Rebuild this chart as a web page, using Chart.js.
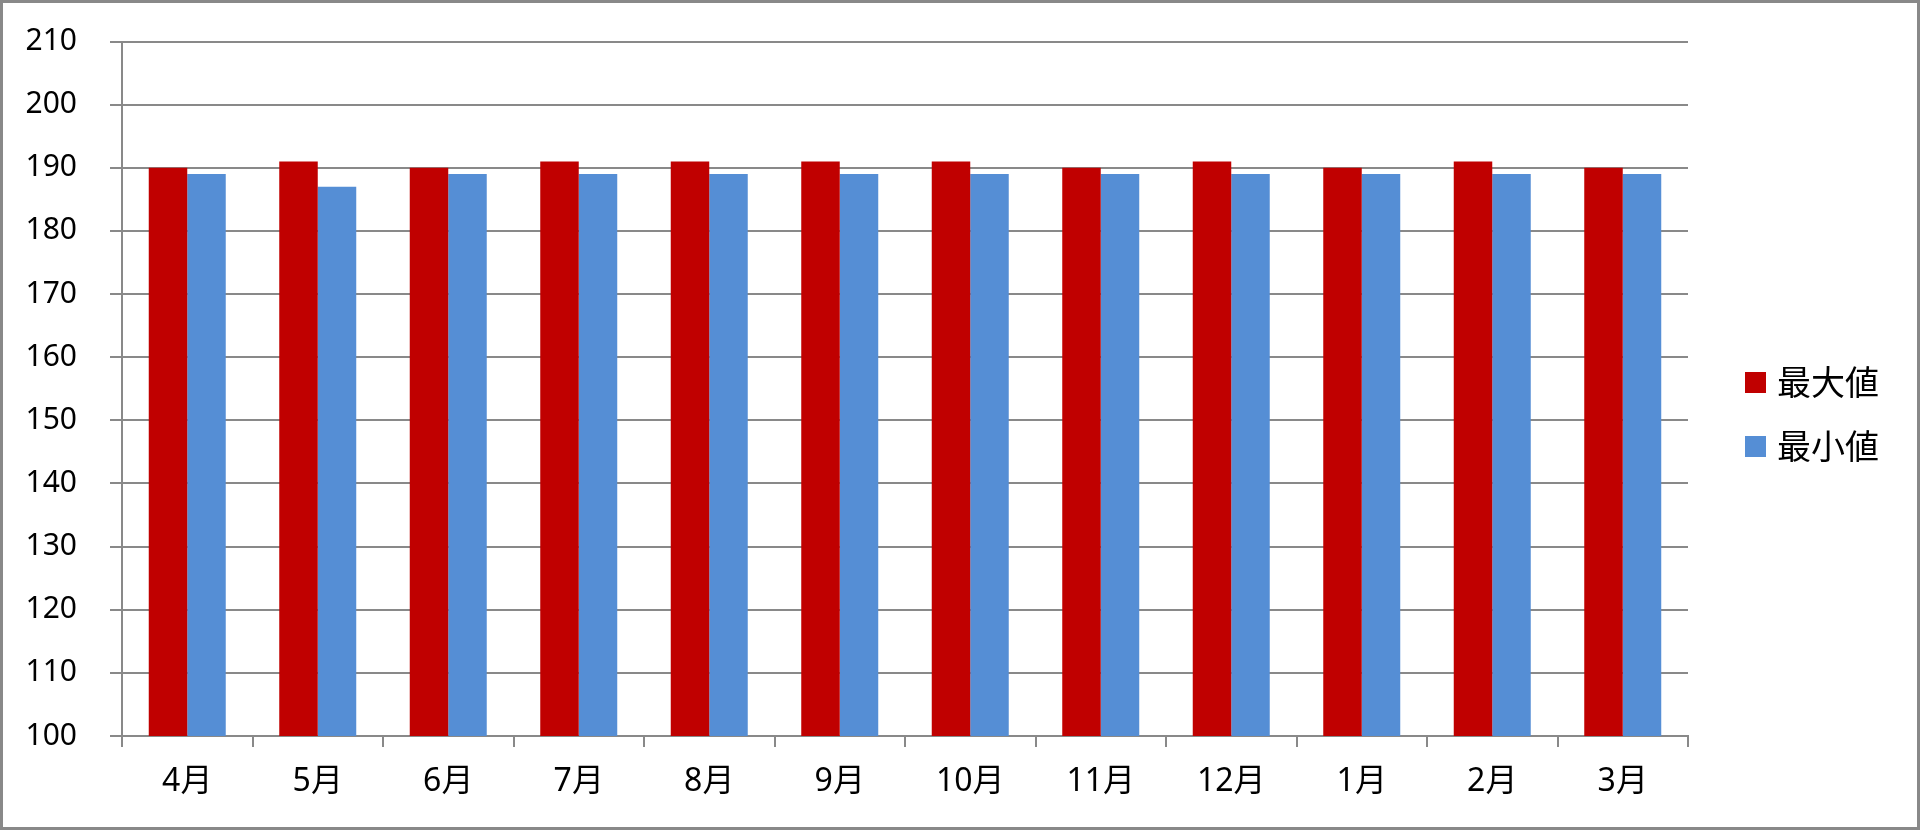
<!DOCTYPE html>
<html lang="ja">
<head>
  <meta charset="UTF-8">
  <title>最大値・最小値</title>
  <script src="https://cdn.jsdelivr.net/npm/chart.js"></script>
  <style>
    * {
      margin: 0;
      padding: 0;
      box-sizing: border-box;
    }

    body {
      background: #fff;
      width: 1920px;
      height: 830px;
      overflow: hidden;
      font-family: 'Noto Sans', 'Noto Sans CJK JP', sans-serif;
    }

    #frame {
      position: relative;
      width: 1920px;
      height: 830px;
      border: 3px solid #898989;
      background: #fff;
    }

    #chart-box {
      position: relative;
      width: 1914px;
      height: 824px;
    }

    #legend {
      position: absolute;
      left: 1742px;
      top: 363px;
      list-style: none;
    }

    #legend li {
      display: flex;
      align-items: center;
      height: 32px;
      margin-bottom: 32px;
      font-size: 34px;
      line-height: 32px;
      color: #000;
    }

    #legend .swatch {
      display: inline-block;
      width: 21px;
      height: 21px;
      margin-right: 11px;
    }
  </style>
</head>
<body>
  <div id="frame">
    <div id="chart-box">
      <canvas id="minmaxChart"></canvas>
    </div>
    <ul id="legend"></ul>
  </div>

  <script>
    const months = ["4月", "5月", "6月", "7月", "8月", "9月", "10月", "11月", "12月", "1月", "2月", "3月"];
    const maxValues = [190, 191, 190, 191, 191, 191, 191, 190, 191, 190, 191, 190];
    const minValues = [189, 187, 189, 189, 189, 189, 189, 189, 189, 189, 189, 189];
    const yTicks = [100, 110, 120, 130, 140, 150, 160, 170, 180, 190, 200, 210];

    const gridGray = "#898989";
    const fontFamily = "'Noto Sans', 'Noto Sans CJK JP', sans-serif";

    const ctx = document.getElementById("minmaxChart").getContext("2d");

    const chart = new Chart(ctx, {
      type: "bar",
      data: {
        labels: months,
        datasets: [
          {
            label: "最大値",
            data: maxValues,
            backgroundColor: "#c00000",
            categoryPercentage: 0.59,
            barPercentage: 1.0
          },
          {
            label: "最小値",
            data: minValues,
            backgroundColor: "#558ed5",
            categoryPercentage: 0.59,
            barPercentage: 1.0
          }
        ]
      },
      options: {
        responsive: true,
        maintainAspectRatio: false,
        animation: false,
        layout: {
          padding: { top: 38.5, left: 0, right: 229, bottom: 0 }
        },
        scales: {
          x: {
            grid: {
              drawOnChartArea: false,
              drawTicks: true,
              tickLength: 11,
              color: gridGray,
              lineWidth: 2
            },
            border: { display: true, color: gridGray, width: 2 },
            ticks: {
              color: "#000",
              padding: 16,
              font: { family: fontFamily, size: 32 }
            },
            afterFit(scale) {
              scale.height = 91;
            }
          },
          y: {
            min: 100,
            max: 210,
            afterBuildTicks(scale) {
              scale.ticks = yTicks.map(v => ({ value: v }));
            },
            grid: {
              color: gridGray,
              lineWidth: 2,
              tickLength: 12
            },
            border: { display: true, color: gridGray, width: 2 },
            ticks: {
              color: "#000",
              padding: 33,
              font: { family: fontFamily, size: 30 }
            },
            afterFit(scale) {
              scale.width = 119;
              // keep the plot top where layout.padding puts it
              scale.paddingTop = 0;
              scale.paddingBottom = 0;
            }
          }
        },
        plugins: {
          tooltip: { enabled: false },
          legend: { display: false }
        }
      }
    });

    // legend on the right, built from the chart's own legend items
    const legendList = document.getElementById("legend");
    Chart.defaults.plugins.legend.labels.generateLabels(chart).forEach(item => {
      const li = document.createElement("li");
      const swatch = document.createElement("span");
      swatch.className = "swatch";
      swatch.style.background = item.fillStyle;
      li.appendChild(swatch);
      li.appendChild(document.createTextNode(item.text));
      legendList.appendChild(li);
    });
  </script>
</body>
</html>
